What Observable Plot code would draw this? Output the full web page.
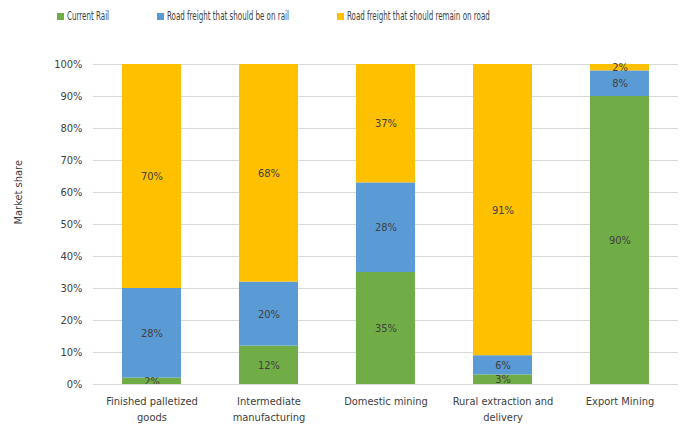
<!DOCTYPE html>
<html>
<head>
<meta charset="utf-8">
<script src="https://cdn.jsdelivr.net/npm/d3@7"></script>
<script src="https://cdn.jsdelivr.net/npm/@observablehq/plot@0.6"></script>
<style>
  body { margin: 0; background: #fff; font-family: "DejaVu Sans Condensed", "DejaVu Sans", sans-serif; }
  #legend { position: relative; height: 30px; font-size: 12px; color: #404040; }
  .item { position: absolute; top: 9px; display: flex; align-items: center; white-space: nowrap; }
  .sw { width: 7px; height: 7px; margin-right: 3px; flex: none; }
  .lt { display: inline-block; transform: scaleX(0.66); transform-origin: left center; }
</style>
</head>
<body>
<div id="legend"></div>
<div id="chart"></div>
<script>
const categories = ["Finished palletized goods", "Intermediate manufacturing", "Domestic mining", "Rural extraction and delivery", "Export Mining"];
const tickLabels = ["Finished palletized\ngoods", "Intermediate\nmanufacturing", "Domestic mining", "Rural extraction and\ndelivery", "Export Mining"];
const series = ["Current Rail", "Road freight that should be on rail", "Road freight that should remain on road"];
const currentRail = [2, 12, 35, 3, 90];
const shouldBeRail = [28, 20, 28, 6, 8];
const remainRoad = [70, 68, 37, 91, 2];
const colors = ["#70AD47", "#5B9BD5", "#FFC000"];
const yTicks = [0, 10, 20, 30, 40, 50, 60, 70, 80, 90, 100];

const valuesBySeries = [currentRail, shouldBeRail, remainRoad];
const data = [];
series.forEach((s, si) => categories.forEach((c, ci) => data.push({ category: c, series: s, value: valuesBySeries[si][ci] })));

// legend
const legendPos = [57, 157, 337];
const legend = document.getElementById("legend");
series.forEach((s, i) => {
  const d = document.createElement("div");
  d.className = "item";
  d.style.left = legendPos[i] + "px";
  d.innerHTML = `<span class="sw" style="background:${colors[i]}"></span><span class="lt">${s}</span>`;
  legend.appendChild(d);
});

const labelMap = new Map(categories.map((c, i) => [c, tickLabels[i]]));
const font = "'DejaVu Sans Condensed', 'DejaVu Sans', sans-serif";

const plot = Plot.plot({
  width: 681,
  height: 396,
  marginTop: 34,
  marginBottom: 42,
  marginLeft: 93,
  marginRight: 3,
  style: { fontFamily: font, fontSize: "11px", color: "#404040", background: "#fff" },
  x: { domain: categories, paddingInner: 0.5, paddingOuter: 0.25, label: null },
  y: { domain: [0, 100], label: null },
  color: { domain: series, range: colors },
  marks: [
    Plot.gridY(yTicks, { stroke: "#d9d9d9", strokeOpacity: 1 }),
    Plot.axisY(yTicks, { tickFormat: d => d + "%", tickSize: 0, tickPadding: 11, label: null, fill: "#404040" }),
    Plot.axisX({ tickSize: 0, tickPadding: 10, tickFormat: d => labelMap.get(d), lineHeight: 1.4, label: null, fill: "#404040" }),
    Plot.barY(data, Plot.stackY({ x: "category", y: "value", fill: "series", order: series })),
    Plot.text(data, Plot.stackY({ x: "category", y: "value", z: "series", order: series, text: d => d.value + "%", fill: "#404040", fontSize: 11 })),
    Plot.ruleY([0], { stroke: "#d9d9d9" }),
    Plot.text(["Market share"], { frameAnchor: "left", dx: -75, rotate: -90, fontSize: 11, fill: "#404040" })
  ]
});
document.getElementById("chart").appendChild(plot);
</script>
</body>
</html>
